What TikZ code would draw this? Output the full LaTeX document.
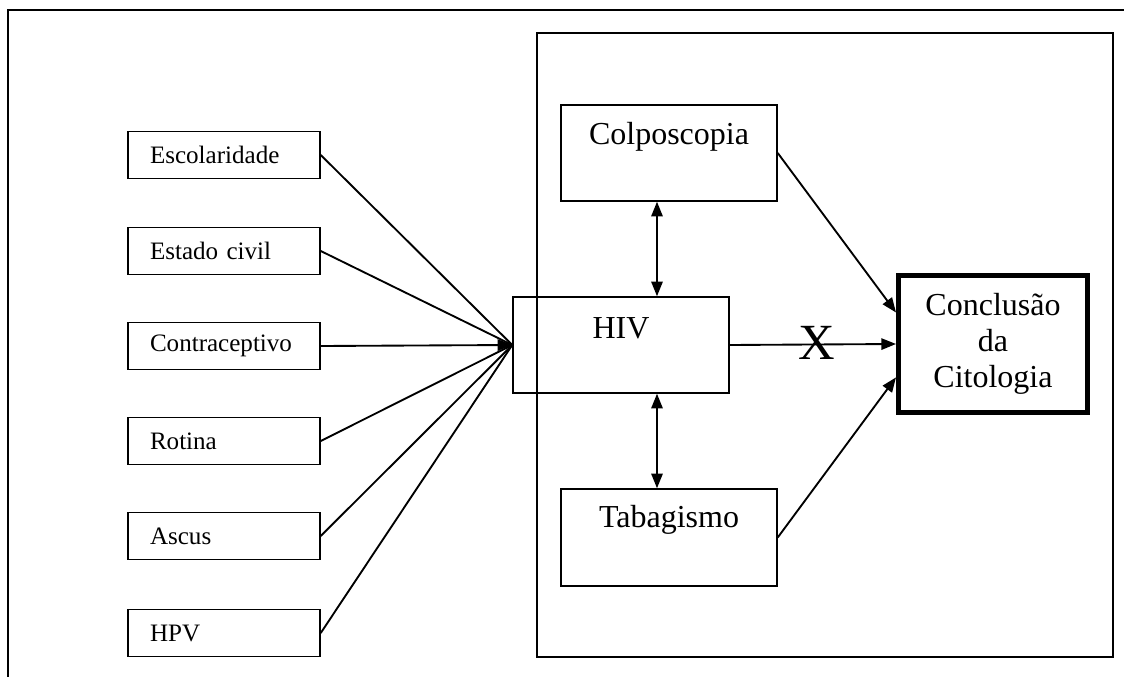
\documentclass[tikz,border=0pt]{standalone}
\usepackage{fontspec}
\setmainfont{Liberation Serif}
\usetikzlibrary{arrows.meta}
\begin{document}
\begin{tikzpicture}[x=0.75pt,y=-0.75pt,
 sbox/.style={draw, line width=1.1pt, minimum width=144pt, minimum height=35.25pt, text width=111pt, inner xsep=16.5pt, align=left, font=\fontsize{18.8}{22}\selectfont},
 mbox/.style={draw, line width=1.1pt, minimum width=162pt, minimum height=72pt},
 lbl/.style={font=\fontsize{24}{27}\selectfont, inner sep=0pt},
 frame/.style={line width=1.5pt},
 conn/.style={line width=1.4pt},
 tip/.style={-{Triangle[length=11pt,width=8.5pt]}},
 dtip/.style={{Triangle[length=11pt,width=8.5pt]}-{Triangle[length=11pt,width=8.5pt]}},
]
\useasboundingbox (0,0) rectangle (1124,677);
% outer frame (top and left visible)
\draw[frame] (8,677) -- (8,10) -- (1124,10);
% inner frame
\draw[frame] (537,33) rectangle (1113,657);

% left boxes
\node[sbox] (esc) at (224,155) {Escolaridade};
\node[sbox] (est) at (224,251) {Estado civil};
\node[sbox] (con) at (224,346) {Contraceptivo};
\node[sbox] (rot) at (224,441) {Rotina};
\node[sbox] (asc) at (224,536) {Ascus};
\node[sbox] (hpv) at (224,633) {HPV};

% middle boxes
\node[mbox] (hiv) at (621,345) {};
\node[lbl] (hivt) at (621,328) {HIV};
\node[mbox] (colp) at (669,153) {};
\node[lbl] (colpt) at (669,137) {Colposcopia};
\node[mbox, minimum height=72.75pt] (tab) at (669,537.5) {};
\node[lbl] (tabt) at (669,520) {Tabagismo};

% conclusion box
\node[draw, line width=3.75pt, minimum width=141.75pt, minimum height=102.75pt,
      align=center, font=\fontsize{24}{27}\selectfont] (conc) at (993,344)
      {Conclusão\\da\\Citologia};

% connectors from left boxes
\draw[conn] (esc.east) -- (hiv.west);
\draw[conn] (est.east) -- (hiv.west);
\draw[conn,tip] (con.east) -- (hiv.west);
\draw[conn] (rot.east) -- (hiv.west);
\draw[conn] (asc.east) -- (hiv.west);
\draw[conn] (hpv.east) -- (hiv.west);

% vertical double arrows
\coordinate (vx) at (657,0);
\draw[conn,dtip] (colp.south -| vx) -- (hiv.north -| vx);
\draw[conn,dtip] (hiv.south -| vx) -- (tab.north -| vx);

% to conclusion
\draw[conn,tip] (colp.east) -- (conc.162);
\draw[conn,tip] (hiv.east) -- (conc.west);
\draw[conn,tip] (tab.east) -- (conc.199);
\node[font=\fontsize{38}{40}\selectfont, inner sep=0pt] (xmark) at (817,343) {X};
\end{tikzpicture}
\end{document}
